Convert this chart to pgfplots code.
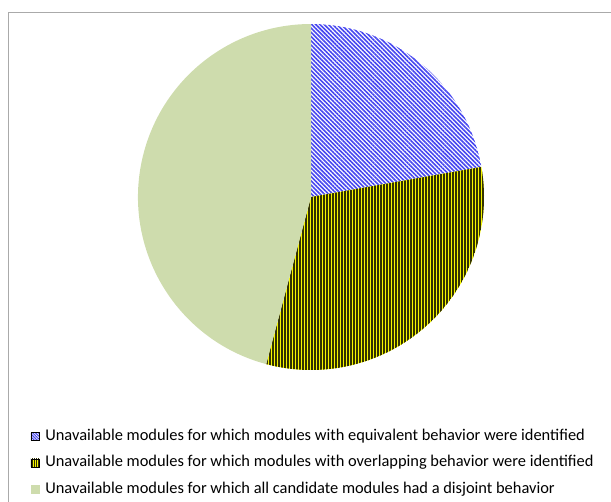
\documentclass[border=0pt]{standalone}
\usepackage{pgfplots}
\pgfplotsset{compat=1.18}
\usepackage{pgfplotstable}
\usepackage{fontspec}
\setmainfont{Carlito}
\usetikzlibrary{patterns.meta}

\definecolor{eqblue}{RGB}{70,70,240}
\definecolor{ovyellow}{RGB}{245,245,0}
\definecolor{ovdark}{RGB}{50,50,0}
\definecolor{disgreen}{RGB}{206,220,173}
\definecolor{framegray}{RGB}{170,170,170}

% number of unavailable modules per case
\pgfplotstableread{
label count
equivalent 16
overlapping 23
disjoint 33
}\piedata

\begin{document}
\begin{tikzpicture}
\pgfplotstablegetelem{0}{count}\of\piedata \let\ca\pgfplotsretval
\pgfplotstablegetelem{1}{count}\of\piedata \let\cb\pgfplotsretval
\pgfplotstablegetelem{2}{count}\of\piedata \let\cc\pgfplotsretval
\pgfmathsetmacro{\total}{\ca+\cb+\cc}
\pgfmathsetmacro{\aA}{90-360*\ca/\total}
\pgfmathsetmacro{\aB}{\aA-360*\cb/\total}
\pgfmathsetmacro{\aC}{\aB-360*\cc/\total}

\path[use as bounding box] (0,0) rectangle (611bp,-502bp);
\draw[framegray, line width=1bp] (8.5bp,-502bp) -- (8.5bp,-12.5bp) -- (611bp,-12.5bp);

\begin{axis}[
  at={(311bp,-197bp)}, anchor=center,
  width=346bp, height=346bp, scale only axis,
  xmin=-1, xmax=1, ymin=-1, ymax=1,
  hide axis, clip=false,
  legend cell align=left,
  legend style={
    at={(axis description cs:-0.3206,-0.1622)}, anchor=north west,
    draw=none, fill=none,
    font=\fontsize{16.4bp}{19bp}\selectfont,
    row sep=10.5bp,
    nodes={inner sep=0pt, text height=12bp, text depth=4bp},
    /tikz/every odd column/.append style={column sep=6bp}},
]
% slices, clockwise from 12 o'clock
\fill[fill=white, postaction={pattern={Lines[angle=-45,distance=3bp,line width=1.6bp]}, pattern color=eqblue}]
  (axis cs:0,0) -- (axis cs:0,1) arc[start angle=90, end angle=\aA, radius=173bp] -- cycle;
\fill[fill=ovyellow, postaction={pattern={Lines[angle=90,distance=3bp,line width=1.1bp]}, pattern color=ovdark}]
  (axis cs:0,0) -- (axis cs:{cos(\aA)},{sin(\aA)}) arc[start angle=\aA, end angle=\aB, radius=173bp] -- cycle;
\fill[disgreen]
  (axis cs:0,0) -- (axis cs:{cos(\aB)},{sin(\aB)}) arc[start angle=\aB, end angle=\aC, radius=173bp] -- cycle;

\addlegendimage{legend image code/.code={
  \fill[fill=white, postaction={pattern={Lines[angle=-45,distance=2bp,line width=1.1bp]}, pattern color=eqblue}] (0bp,-4bp) rectangle (8bp,4bp);}}
\addlegendentry{Unavailable modules for which modules with equivalent behavior were identified}
\addlegendimage{legend image code/.code={
  \fill[fill=ovyellow, postaction={pattern={Lines[angle=90,distance=2bp,line width=1bp]}, pattern color=ovdark}] (0bp,-4bp) rectangle (8bp,4bp);}}
\addlegendentry{Unavailable modules for which modules with overlapping behavior were identified}
\addlegendimage{legend image code/.code={
  \fill[disgreen] (0bp,-4bp) rectangle (8bp,4bp);}}
\addlegendentry{Unavailable modules for which all candidate modules had a disjoint behavior}
\end{axis}
\end{tikzpicture}
\end{document}
